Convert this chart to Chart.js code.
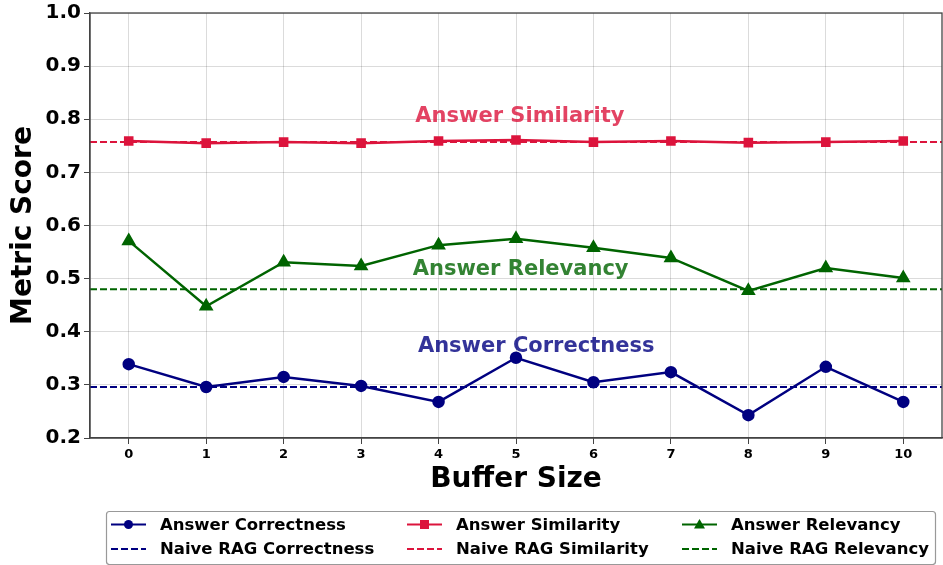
<!DOCTYPE html>
<html>
<head>
<meta charset="utf-8">
<script src="https://cdn.jsdelivr.net/npm/chart.js@4.4.1/dist/chart.umd.min.js"></script>
<style>
  html, body { margin: 0; padding: 0; background: #fff; }
  #wrap { width: 943px; height: 565px; }
</style>
</head>
<body>
<div id="wrap"><canvas id="bufferChart" width="943" height="565"></canvas></div>
<script>
// data
const bufferSizes = [0, 1, 2, 3, 4, 5, 6, 7, 8, 9, 10];
const correctness = [0.339, 0.296, 0.315, 0.298, 0.268, 0.351, 0.305, 0.324, 0.243, 0.334, 0.268];
const similarity  = [0.759, 0.755, 0.757, 0.755, 0.759, 0.761, 0.757, 0.759, 0.756, 0.757, 0.759];
const relevancy   = [0.571, 0.448, 0.531, 0.524, 0.563, 0.575, 0.558, 0.539, 0.477, 0.520, 0.501];
const naiveCorrectness = 0.296;
const naiveSimilarity  = 0.757;
const naiveRelevancy   = 0.480;
const yTicks = [0.2, 0.3, 0.4, 0.5, 0.6, 0.7, 0.8, 0.9, 1.0];

const NAVY = "#000080", CRIMSON = "#dc143c", GREEN = "#006400";
const FONT = "'DejaVu Sans', sans-serif";

function pts(vals) {
  return bufferSizes.map((x, i) => ({x: x, y: vals[i]}));
}
function flat(v) {
  return [{x: -0.5, y: v}, {x: 10.5, y: v}];
}

// text labels placed inside the plot
const notes = [
  {text: "Answer Similarity",  x: 5.05, y: 0.806, color: "rgba(220,20,60,0.8)"},
  {text: "Answer Relevancy",   x: 5.06, y: 0.518, color: "rgba(0,100,0,0.8)"},
  {text: "Answer Correctness", x: 5.26, y: 0.373, color: "rgba(0,0,128,0.8)"}
];

const legendItems = [
  {label: "Answer Correctness",    color: NAVY,    dash: false, marker: "circle"},
  {label: "Answer Similarity",     color: CRIMSON, dash: false, marker: "rect"},
  {label: "Answer Relevancy",      color: GREEN,   dash: false, marker: "triangle"},
  {label: "Naive RAG Correctness", color: NAVY,    dash: true},
  {label: "Naive RAG Similarity",  color: CRIMSON, dash: true},
  {label: "Naive RAG Relevancy",   color: GREEN,   dash: true}
];

const extras = {
  id: "extras",
  afterDraw(chart) {
    const ctx = chart.ctx, a = chart.chartArea;
    const xs = chart.scales.x, ys = chart.scales.y;
    ctx.save();
    // frame
    ctx.strokeStyle = "#444";
    ctx.lineWidth = 1.3;
    ctx.strokeRect(a.left, a.top, a.right - a.left, a.bottom - a.top);
    // notes
    ctx.font = "bold 21px " + FONT;
    ctx.textAlign = "center";
    ctx.textBaseline = "middle";
    notes.forEach(n => {
      ctx.fillStyle = n.color;
      ctx.fillText(n.text, xs.getPixelForValue(n.x), ys.getPixelForValue(n.y));
    });
    // legend box
    const bx = 106, by = 511, bw = 829, bh = 53;
    ctx.beginPath();
    ctx.roundRect(bx + 0.5, by + 0.5, bw, bh, 3);
    ctx.fillStyle = "rgba(255,255,255,0.9)";
    ctx.fill();
    ctx.strokeStyle = "#999";
    ctx.lineWidth = 1.2;
    ctx.stroke();
    const colX = [111, 407, 682];
    const rowY = [524.5, 549];
    ctx.font = "bold 16.5px " + FONT;
    ctx.textAlign = "left";
    legendItems.forEach((it, i) => {
      const cx = colX[i % 3], cy = rowY[Math.floor(i / 3)];
      ctx.strokeStyle = it.color;
      ctx.fillStyle = it.color;
      ctx.lineWidth = 2.2;
      ctx.setLineDash(it.dash ? [7, 3] : []);
      ctx.beginPath();
      ctx.moveTo(cx, cy);
      ctx.lineTo(cx + 35, cy);
      ctx.stroke();
      ctx.setLineDash([]);
      const mx = cx + 17.5;
      if (it.marker === "circle") {
        ctx.beginPath(); ctx.arc(mx, cy, 4.5, 0, Math.PI * 2); ctx.fill();
      } else if (it.marker === "rect") {
        ctx.fillRect(mx - 4.5, cy - 4.5, 9, 9);
      } else if (it.marker === "triangle") {
        ctx.beginPath();
        ctx.moveTo(mx, cy - 5.5); ctx.lineTo(mx + 5.5, cy + 4); ctx.lineTo(mx - 5.5, cy + 4);
        ctx.closePath(); ctx.fill();
      }
      ctx.fillStyle = "#000";
      ctx.fillText(it.label, cx + 49, cy + 1);
    });
    ctx.restore();
  }
};

new Chart("bufferChart", {
  type: "line",
  data: {
    datasets: [
      {label: "Answer Correctness", data: pts(correctness), borderColor: NAVY, backgroundColor: NAVY,
       borderWidth: 2.5, pointStyle: "circle", pointRadius: 5, order: 1},
      {label: "Answer Similarity", data: pts(similarity), borderColor: CRIMSON, backgroundColor: CRIMSON,
       borderWidth: 2.5, pointStyle: "rect", pointRadius: 5, order: 1},
      {label: "Answer Relevancy", data: pts(relevancy), borderColor: GREEN, backgroundColor: GREEN,
       borderWidth: 2.5, pointStyle: "triangle", pointRadius: 6, order: 1},
      {label: "Naive RAG Correctness", data: flat(naiveCorrectness), borderColor: NAVY,
       borderWidth: 2, borderDash: [7, 3], pointRadius: 0, order: 2},
      {label: "Naive RAG Similarity", data: flat(naiveSimilarity), borderColor: CRIMSON,
       borderWidth: 2, borderDash: [7, 3], pointRadius: 0, order: 2},
      {label: "Naive RAG Relevancy", data: flat(naiveRelevancy), borderColor: GREEN,
       borderWidth: 2, borderDash: [7, 3], pointRadius: 0, order: 2}
    ]
  },
  options: {
    responsive: false,
    animation: false,
    layout: {autoPadding: false, padding: {top: 13, right: 1, bottom: 67, left: 0}},
    plugins: {legend: {display: false}, tooltip: {enabled: false}},
    scales: {
      x: {
        type: "linear", min: -0.5, max: 10.5,
        afterBuildTicks: s => { s.ticks = bufferSizes.map(v => ({value: v})); },
        afterFit: s => { s.height = 60; s.paddingRight = 0; s.paddingLeft = 0; },
        grid: {color: "rgba(0,0,0,0.14)", tickLength: 6, tickColor: "#444"},
        border: {color: "#444", width: 1.3},
        ticks: {color: "#000", font: {family: FONT, size: 13, weight: "bold"}, padding: 3, maxRotation: 0},
        title: {display: true, text: "Buffer Size", color: "#000",
                font: {family: FONT, size: 28, weight: "bold"}, padding: {top: 0, bottom: 1}}
      },
      y: {
        min: 0.2, max: 1.0,
        afterBuildTicks: s => { s.ticks = yTicks.map(v => ({value: v})); },
        afterFit: s => { s.width = 90; s.paddingTop = 0; s.paddingBottom = 0; },
        grid: {color: "rgba(0,0,0,0.14)", tickLength: 6, tickColor: "#444"},
        border: {color: "#444", width: 1.3},
        ticks: {color: "#000", font: {family: FONT, size: 20, weight: "bold"}, padding: 3,
                callback: v => v.toFixed(1)},
        title: {display: true, text: "Metric Score", color: "#000",
                font: {family: FONT, size: 28, weight: "bold"}, padding: {top: 7, bottom: 0}}
      }
    }
  },
  plugins: [extras]
});
</script>
</body>
</html>
